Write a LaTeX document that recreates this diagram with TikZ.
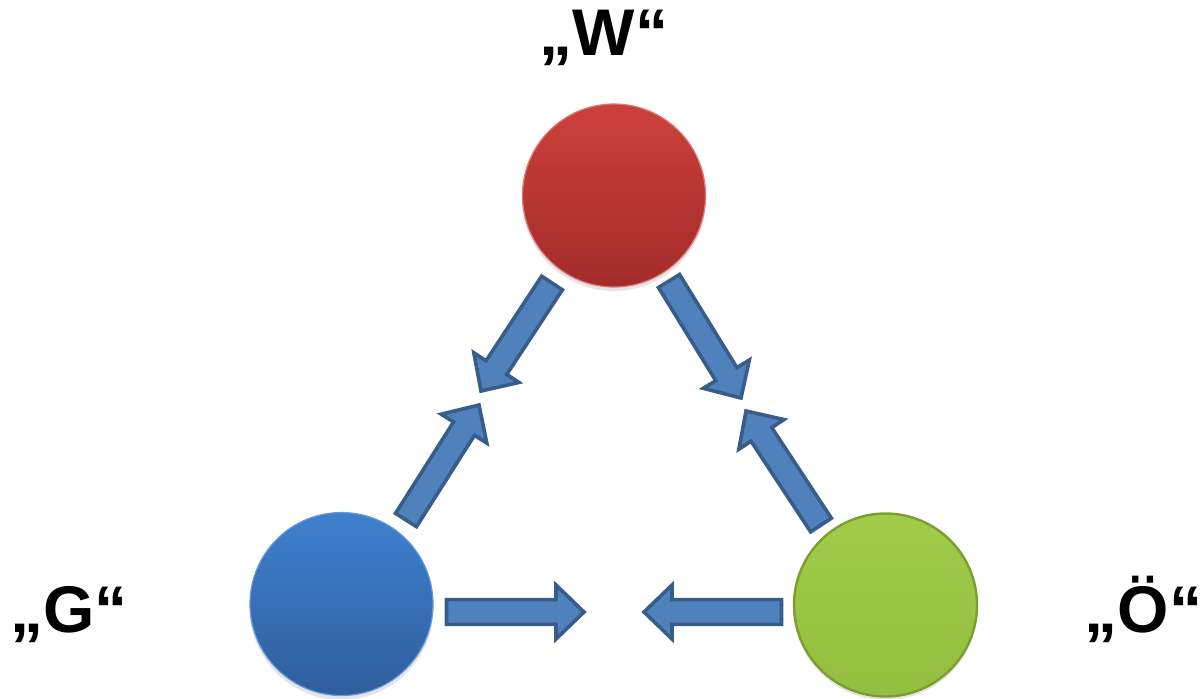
\documentclass[tikz,border=0pt]{standalone}
\usepackage{fontspec}
\setmainfont{Liberation Sans}
\usetikzlibrary{calc}
\definecolor{arrfill}{HTML}{4F81BD}
\definecolor{arrline}{HTML}{385D8A}
\definecolor{redtop}{HTML}{CD403C}
\definecolor{redbot}{HTML}{A22C2A}
\definecolor{bluetop}{HTML}{3E80CF}
\definecolor{bluebot}{HTML}{2F5E9C}
\definecolor{greentop}{HTML}{A2CB4A}
\definecolor{greenbot}{HTML}{93BE3E}
\definecolor{greenedge}{HTML}{7A9F2E}
\tikzset{
  ball/.style={circle, inner sep=0pt, minimum size=91.5pt},
  shadowball/.style={circle, inner sep=0pt, minimum size=92pt, fill=black, opacity=0.10},
  lbl/.style={font=\bfseries\fontsize{33}{40}\selectfont, anchor=base, inner sep=0pt},
  blockarrow/.style={fill=arrfill, draw=arrline, line width=1.8pt, line join=miter},
}
\newcommand{\barrow}[2]{%
  \coordinate (#1-#2-m) at ($(#2)!14pt!(#1)$);
  \draw[blockarrow] ($(#1)!6.2pt!90:(#2)$)
    -- ($(#1-#2-m)!6.2pt!90:(#2)$)
    -- ($(#1-#2-m)!13.5pt!90:(#2)$)
    -- (#2)
    -- ($(#1-#2-m)!13.5pt!-90:(#2)$)
    -- ($(#1-#2-m)!6.2pt!-90:(#2)$)
    -- ($(#1)!6.2pt!-90:(#2)$) -- cycle;}
\begin{document}
\begin{tikzpicture}[x=0.5pt, y=-0.5pt]
\useasboundingbox (0,0) rectangle (1202,698);
% soft shadows
\node[shadowball] at (614,199) {};
\node[shadowball] at (341.5,608) {};
\node[shadowball] at (885.5,608) {};
% circles
\node[ball, top color=redtop, bottom color=redbot, draw=redtop!70!white, line width=0.6pt] (R) at (614,195.5) {};
\node[ball, top color=bluetop, bottom color=bluebot, draw=bluetop!80!white, line width=0.6pt] (B) at (341.5,604) {};
\node[ball, top color=greentop, bottom color=greenbot, draw=greenedge, line width=1.2pt] (G) at (885.5,605) {};
% labels
\node[lbl] (lW) at (604,55) {„W“};
\node[lbl] (lG) at (69,632) {„G“};
\node[lbl] (lO) at (1143.5,632) {„Ö“};
% arrow end points
\coordinate (a1) at (552,283);
\coordinate (a2) at (481,391);
\coordinate (b1) at (406,520);
\coordinate (b2) at (479,405);
\coordinate (c1) at (669,281);
\coordinate (c2) at (741,398);
\coordinate (d1) at (821,525);
\coordinate (d2) at (746,411);
\coordinate (e1) at (446.5,612);
\coordinate (e2) at (584,612);
\coordinate (f1) at (781.5,612);
\coordinate (f2) at (644,612);
\barrow{a1}{a2}
\barrow{b1}{b2}
\barrow{c1}{c2}
\barrow{d1}{d2}
\barrow{e1}{e2}
\barrow{f1}{f2}
\end{tikzpicture}
\end{document}
